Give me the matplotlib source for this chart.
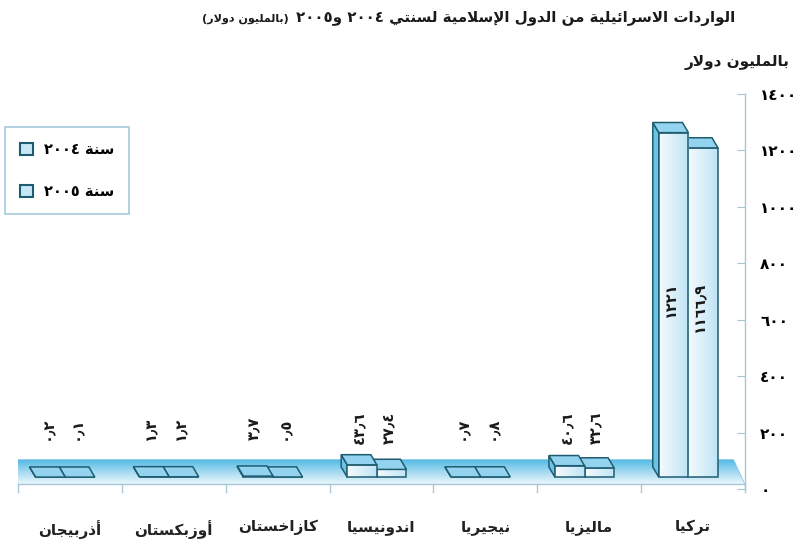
import numpy as np
import matplotlib
matplotlib.use('Agg')
import matplotlib.pyplot as plt
from matplotlib.patches import Polygon, Patch
from matplotlib.colors import LinearSegmentedColormap

''' البيانات (من اليمين الى اليسار كما في الرسم) '''

BLDAN = ['تركيا', 'ماليزيا', 'نيجيريا', 'اندونيسيا', 'كازاخستان', 'أوزبكستان', 'أذربيجان']
SANA_2004 = [1221, 40.6, 0.7, 43.6, 3.7, 1.3, 0.2]
SANA_2005 = [1166.9, 32.6, 0.8, 27.4, 0.5, 1.2, 0.1]
SERIES = ['سنة ٢٠٠٤', 'سنة ٢٠٠٥']
YTICKS = [0, 200, 400, 600, 800, 1000, 1200, 1400]

TITLE = 'الواردات الاسرائيلية من الدول الإسلامية لسنتي ٢٠٠٤ و٢٠٠٥'
TITLE_SMALL = '(بالمليون دولار)'
UNIT = 'بالمليون دولار'


''' تشكيل الحروف العربية يدوياً (matplotlib لا يربط الحروف) '''

FORMS = {
    'ء': (0xFE80, 1), 'آ': (0xFE81, 2), 'أ': (0xFE83, 2), 'ؤ': (0xFE85, 2),
    'إ': (0xFE87, 2), 'ئ': (0xFE89, 4), 'ا': (0xFE8D, 2), 'ب': (0xFE8F, 4),
    'ة': (0xFE93, 2), 'ت': (0xFE95, 4), 'ث': (0xFE99, 4), 'ج': (0xFE9D, 4),
    'ح': (0xFEA1, 4), 'خ': (0xFEA5, 4), 'د': (0xFEA9, 2), 'ذ': (0xFEAB, 2),
    'ر': (0xFEAD, 2), 'ز': (0xFEAF, 2), 'س': (0xFEB1, 4), 'ش': (0xFEB5, 4),
    'ص': (0xFEB9, 4), 'ض': (0xFEBD, 4), 'ط': (0xFEC1, 4), 'ظ': (0xFEC5, 4),
    'ع': (0xFEC9, 4), 'غ': (0xFECD, 4), 'ف': (0xFED1, 4), 'ق': (0xFED5, 4),
    'ك': (0xFED9, 4), 'ل': (0xFEDD, 4), 'م': (0xFEE1, 4), 'ن': (0xFEE5, 4),
    'ه': (0xFEE9, 4), 'و': (0xFEED, 2), 'ى': (0xFEEF, 2), 'ي': (0xFEF1, 4),
    'لآ': (0xFEF5, 2), 'لأ': (0xFEF7, 2), 'لإ': (0xFEF9, 2), 'لا': (0xFEFB, 2),
}
DIGITS = set('٠١٢٣٤٥٦٧٨٩0123456789٫,.')
MIRROR = {'(': ')', ')': '('}


def ar(txt):
    chars = []
    i = 0
    while i < len(txt):
        if txt[i] == 'ل' and i + 1 < len(txt) and txt[i:i + 2] in FORMS:
            chars.append(txt[i:i + 2])
            i += 2
        else:
            chars.append(txt[i])
            i += 1
    out = []
    for k, c in enumerate(chars):
        if c not in FORMS:
            out.append(MIRROR.get(c, c))
            continue
        base, n = FORMS[c]
        prev = chars[k - 1] if k > 0 else None
        nxt = chars[k + 1] if k + 1 < len(chars) else None
        j_prev = prev in FORMS and FORMS[prev][1] == 4
        j_next = n == 4 and nxt in FORMS
        if n == 1:
            idx = 0
        elif j_prev and j_next:
            idx = 3
        elif j_prev:
            idx = 1
        elif j_next:
            idx = 2
        else:
            idx = 0
        out.append(chr(base + idx))
    vis = out[::-1]
    # الارقام تبقى من اليسار الى اليمين
    res, run = [], []
    for c in vis + [None]:
        if c is not None and c in DIGITS:
            run.append(c)
        else:
            res.extend(run[::-1])
            run = []
            if c is not None:
                res.append(c)
    return ''.join(res)


def num_ar(v):
    s = '{:g}'.format(v)
    return s.translate(str.maketrans('0123456789.', '٠١٢٣٤٥٦٧٨٩٫'))


''' الشكل '''

plt.rcParams['font.family'] = ['DejaVu Sans']

EDGE = '#1e5d70'
TOP = '#93d3ef'
SIDE = '#6cc3e8'
W = 0.285          # عرض العمود
OFF = -0.045       # ازاحة الزوج
DX, DY = -0.058, 36   # العمق
BASE = 42
F_Y, F_DX, F_DY = 16, -0.11, 88

fig = plt.figure(figsize=(8.03, 5.47), dpi=100)
ax = fig.add_axes([18 / 803, (547 - 489) / 547, 727 / 803, 395 / 547])

# الارضية
floor = Polygon([(-0.5, F_Y), (6.5, F_Y), (6.5 + F_DX, F_Y + F_DY), (-0.5 + F_DX, F_Y + F_DY)],
                closed=True, facecolor='none', edgecolor='#8fc6dd', lw=0.6, zorder=1)
ax.add_patch(floor)
cm_floor = LinearSegmentedColormap.from_list('fl', ['#eaf7fc', '#a3d9f1', '#4fb9e6'])
g = np.linspace(0, 1, 64).reshape(-1, 1)
im = ax.imshow(g, extent=(-0.65, 6.55, F_Y, F_Y + F_DY), origin='lower', aspect='auto',
               cmap=cm_floor, zorder=0.9, interpolation='bicubic')
im.set_clip_path(floor)

# خط المحور السيني والفواصل
ax.plot([-0.5, 6.5], [F_Y, F_Y], color='#a9c6d6', lw=1.0, zorder=1.2)
for xb in np.arange(-0.5, 7.0, 1.0):
    ax.plot([xb, xb], [F_Y, -12], color='#a9c6d6', lw=1.0, clip_on=False, zorder=1.2)

cm_front = LinearSegmentedColormap.from_list('fr', ['#f4fbfe', '#bfe4f5'])
gx = np.linspace(0, 1, 64).reshape(1, -1)

xs = np.arange(len(BLDAN))[::-1]
z = 2
# 2005 اولاً ثم 2004 (الاقرب للناظر)
for vals, shift in ((SANA_2005, W / 2), (SANA_2004, -W / 2)):
    bars = ax.bar(xs + OFF + shift, vals, width=W, bottom=BASE, facecolor='none',
                  edgecolor=EDGE, lw=1.1, zorder=z + 0.2)
    for b in bars:
        x0, y0, w, h = b.get_x(), b.get_y(), b.get_width(), b.get_height()
        x1, y1 = x0 + w, y0 + h
        ax.add_patch(Polygon([(x0, y0), (x0, y1), (x0 + DX, y1 + DY), (x0 + DX, y0 + DY)],
                             closed=True, facecolor=SIDE, edgecolor=EDGE, lw=1.1, zorder=z))
        fr = ax.imshow(gx, extent=(x0, x1, y0, y1), aspect='auto', cmap=cm_front,
                       zorder=z + 0.1, interpolation='bicubic')
        fr.set_clip_path(b)
        ax.add_patch(Polygon([(x0, y1), (x1, y1), (x1 + DX, y1 + DY), (x0 + DX, y1 + DY)],
                             closed=True, facecolor=TOP, edgecolor=EDGE, lw=1.1, zorder=z + 0.3))
    z += 1

# قيم الاعمدة
for vals, shift in ((SANA_2004, -W / 2), (SANA_2005, W / 2)):
    for x, v in zip(xs, vals):
        if v > 300:
            yy = BASE + v / 2 + 20
        else:
            yy = 216
        ax.text(x + OFF + shift + DX / 2, yy, num_ar(v), rotation=90, ha='center', va='center',
                fontsize=10.5, fontweight='bold', color='#1a1a1a', zorder=10)

ax.set_xlim(-0.5, 6.5)
ax.set_ylim(0, 1400)
for s in ('left', 'top', 'bottom'):
    ax.spines[s].set_visible(False)
ax.spines['right'].set_color('#a9c6d6')
ax.spines['right'].set_linewidth(1.0)
ax.yaxis.tick_right()
ax.set_yticks(YTICKS)
ax.set_yticklabels([num_ar(t) for t in YTICKS], fontsize=11, fontweight='bold')
ax.tick_params(axis='y', direction='in', length=6, color='#a9c6d6', pad=11)
ax.set_xticks(xs)
ax.set_xticklabels([ar(b) for b in BLDAN], fontsize=11, fontweight='bold', color='#222222')
ax.tick_params(axis='x', length=0, pad=22)

# العنوان
t1 = fig.text(735 / 803, 1 - 18 / 547, ar(TITLE), ha='right', va='center',
              fontsize=10.8, fontweight='bold', color='#1a1a1a')
ax.annotate(ar(TITLE_SMALL), xy=(0, 0), xycoords=t1, xytext=(-5, 1), textcoords='offset points',
            ha='right', va='bottom', fontsize=8, fontweight='bold', color='#1a1a1a')
fig.text(790 / 803, 1 - 63 / 547, ar(UNIT), ha='right', va='center', fontsize=11,
         fontweight='bold', color='#1a1a1a')

# المفتاح
handles = [Patch(facecolor='#c6e7f6', edgecolor=EDGE, lw=1.5) for _ in SERIES]
leg = fig.legend(handles, [ar(s) for s in SERIES], loc='upper left',
                 bbox_to_anchor=(5 / 803, 1 - 127 / 547), fancybox=False, framealpha=1,
                 edgecolor='#a6cadb', handlelength=0.9, handleheight=0.9, labelspacing=1.9,
                 borderpad=1.0, handletextpad=0.8, borderaxespad=0,
                 prop={'size': 10.5, 'weight': 'bold'})
leg.get_frame().set_linewidth(1.2)

fig.savefig('out.png', dpi=100, facecolor='white')
